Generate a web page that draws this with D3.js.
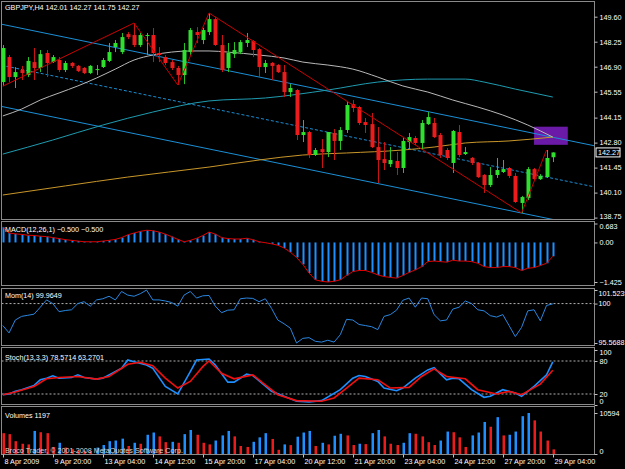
<!DOCTYPE html>
<html>
<head>
<meta charset="utf-8">
<script src="https://cdnjs.cloudflare.com/ajax/libs/d3/7.8.5/d3.min.js"></script>
<style>
  body { margin: 0; background: #000; }
  svg { display: block; }
  text { font-family: "Liberation Sans", Arial, sans-serif; font-size: 7.2px; fill: #fff; }
</style>
</head>
<body>
<svg width="625" height="469"></svg>
<script>
// GBPJPY H4, 8 Apr 12:00 .. 29 Apr 04:00 (89 bars)
var open = [146.07,147.42,146.34,146.72,146.45,147.15,146.83,147.64,147.15,147.26,
  146.72,147.10,146.94,146.83,146.56,146.72,146.88,147.21,147.96,147.69,
  148.66,148.61,148.07,148.56,148.61,147.64,147.42,147.15,146.83,146.45,
  147.69,148.77,148.34,148.77,149.47,148.07,146.83,147.58,147.69,148.18,
  148.29,147.85,146.88,147.10,146.99,146.61,145.53,145.64,143.21,143.37,
  142.13,142.45,142.29,143.32,142.89,143.48,144.88,144.72,143.91,143.80,
  142.56,141.91,141.64,141.81,141.43,142.83,143.05,142.78,143.80,143.86,
  143.21,142.40,141.70,143.37,142.18,141.97,141.70,141.05,140.51,141.05,
  141.21,141.43,141.00,139.54,139.81,141.37,140.83,140.94,142.01];
var high = [148.07,147.53,146.88,146.94,147.42,147.91,147.80,147.80,147.53,147.42,
  147.21,147.15,146.99,146.88,146.99,146.99,147.37,148.18,148.34,148.72,
  148.77,149.26,148.72,148.72,148.99,147.96,147.53,147.26,146.94,148.18,
  148.99,149.04,148.99,149.80,149.58,148.61,148.18,148.23,148.34,148.72,
  148.34,147.91,147.26,147.15,147.04,146.99,145.96,145.69,144.02,143.43,
  142.51,142.99,143.37,143.53,143.64,144.99,145.10,144.78,144.13,144.40,
  143.64,142.83,142.56,142.29,143.05,143.32,143.16,144.02,144.45,144.13,
  143.32,142.51,143.48,143.75,142.56,142.02,141.75,141.10,141.48,141.97,
  141.86,141.48,141.16,139.92,141.48,141.43,141.10,142.40,142.27];
var low = [145.85,146.07,145.75,146.18,146.34,146.18,146.61,146.34,147.10,146.61,
  146.61,146.83,146.61,146.50,146.50,146.45,146.83,147.15,147.69,147.58,
  148.39,147.96,147.96,147.53,147.15,147.15,146.99,146.72,145.91,145.96,
  147.53,148.18,148.12,148.61,148.02,146.61,146.61,147.37,147.58,147.96,
  147.42,146.34,146.56,146.18,146.56,145.26,145.26,142.94,142.83,141.97,
  142.08,141.43,142.02,141.86,142.40,143.32,144.45,143.75,143.32,142.51,
  140.62,141.32,141.48,141.05,141.16,142.40,142.67,142.40,143.75,143.05,
  141.97,141.86,141.16,142.02,142.13,141.59,140.89,140.08,140.40,140.89,
  141.16,140.89,139.54,139.00,139.70,140.78,140.78,140.89,141.75];
var close = [147.91,146.34,146.61,146.56,147.21,146.83,147.58,147.10,147.42,146.72,
  147.10,146.94,146.67,146.56,146.94,146.77,147.26,147.69,148.18,148.50,
  148.50,148.07,148.61,148.61,147.64,147.53,147.10,146.83,146.45,147.80,
  148.88,148.61,148.88,149.47,148.07,146.72,147.64,147.80,148.23,148.34,
  147.80,146.88,147.10,146.94,146.61,145.53,145.75,143.21,143.37,142.13,
  142.40,142.29,143.37,142.89,143.48,144.83,144.67,143.86,143.75,142.56,
  141.86,141.70,141.86,141.43,142.89,143.10,142.78,143.86,144.18,143.10,
  142.13,141.97,143.43,142.13,142.29,141.70,140.94,140.51,141.05,141.32,
  141.37,141.00,139.59,139.86,141.37,140.83,141.00,141.97,142.27];

// moving averages: [bar, price]
var maSlow = [[0,139.97],[10,140.46],[20,140.94],[33,141.48],[41,141.86],[48,142.13],
  [55,142.24],[64,142.40],[69,142.56],[74,142.78],[81,142.89],[88,143.10]];
var maMid = [[0,142.18],[8,142.94],[16,143.75],[24,144.45],[33,145.05],[42,145.21],
  [52,145.64],[60,146.07],[68,146.23],[74,146.23],[77,146.07],[82,145.69],[88,145.26]];
var maFast = [[0,144.24],[3,144.61],[6,145.10],[9,145.48],[12,145.86],[15,146.29],
  [18,146.77],[21,147.26],[24,147.53],[27,147.69],[30,147.75],[33,147.75],[36,147.69],
  [41,147.53],[45,147.37],[48,147.15],[52,146.99],[56,146.77],[60,146.34],[64,145.86],
  [68,145.53],[72,145.10],[76,144.72],[80,144.29],[84,143.75],[88,143.10]];

// zigzag turning points: [bar, "h"|"l"]
var zigzag = [[0,"l"],[21,"h"],[28,"l"],[33,"h"],[83,"l"],[87,"h"]];

// regression channel: middle line from bar 0 to bar 88, half width in yen
var channelBars = [0, 88];
var channelMid = [146.96, 140.87];
var channelHalf = 2.22;

// rectangle object
var boxBars = [85, 90.4];
var boxPrices = [143.66, 142.68];

var macd = [0.55,0.34,0.31,0.29,0.26,0.25,0.225,0.21,0.175,0.14,
  0.10,0.075,0.05,0.025,0.025,0.025,0.05,0.075,0.11,0.175,
  0.275,0.34,0.40,0.44,0.425,0.375,0.30,0.21,0.11,0.025,
  0.075,0.15,0.25,0.375,0.30,0.175,0.14,0.125,0.125,0.15,
  0.10,0.025,-0.01,-0.05,-0.10,-0.20,-0.35,-0.54,-0.79,-1.10,
  -1.345,-1.40,-1.425,-1.40,-1.345,-1.19,-1.05,-1.01,-1.01,-1.08,
  -1.17,-1.23,-1.26,-1.285,-1.19,-1.08,-0.99,-0.87,-0.69,-0.67,
  -0.69,-0.71,-0.64,-0.67,-0.67,-0.69,-0.75,-0.87,-0.905,-0.905,
  -0.87,-0.87,-0.905,-1.01,-0.93,-0.905,-0.83,-0.75,-0.50];

var mom = [97.53,96.70,98.15,98.56,98.68,98.81,99.59,100.41,100.00,99.09,
  99.22,99.30,100.00,100.21,99.71,100.41,100.54,100.82,100.41,101.36,
  100.95,100.82,101.11,101.52,100.41,100.41,100.29,100.12,99.71,100.95,
  101.36,100.62,100.87,100.91,99.71,98.97,99.26,99.30,100.54,100.62,
  100.58,100.21,100.54,99.46,98.15,97.73,97.24,95.57,96.09,96.17,
  95.76,95.67,95.88,95.67,96.50,98.23,98.15,97.65,97.53,97.40,
  97.07,98.56,98.76,99.26,100.37,100.62,99.59,100.62,100.54,98.76,
  98.06,98.15,99.38,99.59,100.29,100.00,99.30,99.18,98.64,98.48,
  98.76,97.53,96.29,97.32,99.18,99.30,98.06,99.79,99.9649];

// stochastic main and signal: [bar, value]
var stochMain = [[0,18.8],[1,20],[2,24.8],[3,27.8],[5,35.6],[6,45.8],[7,48.8],[8,53],[9,48.8],
  [11,50],[12,54.8],[13,50],[15,47],[16,48.8],[17,54.8],[19,66.8],[20,81.8],[21,78.8],
  [23,72.8],[24,66.8],[26,33.8],[28,20],[30,60.8],[31,81.8],[33,83.6],[34,72.8],[36,41.6],
  [37,41.6],[39,56],[40,53.6],[43,24.8],[45,15.8],[47,6.8],[49,5.6],[51,8],[54,27.8],
  [56,48.8],[57,53.6],[58,51.8],[60,42.8],[61,30.8],[63,26],[64,30.8],[66,48.8],[68,63.8],
  [69,68],[71,45.8],[72,48.8],[73,47.6],[75,27.8],[77,14],[78,15.8],[80,27.8],[82,21.8],
  [83,15.8],[85,33.8],[87,55],[88,78.5714]];
var stochSignal = [[0,18.8],[2,23.6],[5,33.8],[7,47.6],[9,50],[12,51.8],[15,47],[17,51.8],
  [20,74],[22,77.6],[24,71.6],[26,48.8],[28,30.8],[30,42.8],[32,69.8],[33,80],[35,57.8],
  [37,47.6],[40,54.8],[42,36.8],[44,18.8],[47,8],[51,6.8],[53,12.8],[55,30.8],[57,48.8],
  [60,45.8],[62,30.8],[65,32],[67,51.8],[69,65.6],[71,51.8],[74,47.6],[76,27.8],[79,20],
  [81,24.8],[83,18.8],[86,38],[88,63.2701]];

var volume = [5380,5130,3310,2650,2480,5960,5630,5380,1820,2900,
  1660,1240,990,830,700,1660,2320,3310,3480,3970,
  2070,2900,2650,4970,5550,4550,3060,3150,2900,5130,
  6210,4970,2900,2480,3480,4800,5960,4550,2070,1820,
  3150,4300,5380,3890,1080,2480,2300,4470,5550,5960,
  2070,2900,2480,4720,5220,4800,2320,2650,2560,5380,
  6210,4550,2650,2320,2900,5380,5220,4550,3060,2320,
  3480,5800,5630,4300,1820,4800,5550,8280,7040,9520,
  4800,4970,5800,9770,10594,8690,5800,3480,1197];

var priceTicks = [149.60,148.25,146.90,145.55,144.15,142.80,141.45,140.10,138.75];
var macdTicks = [0.683, 0, -1.425];
var momTicks = [101.5239, 100, 95.5688];
var stochTicks = [100, 80, 20, 0];
var volTicks = [10594, 0];
var timeBars = [0,8,16,24,32,40,48,56,64,72,80,88];
var timeLabels = ["8 Apr 2009","9 Apr 20:00","13 Apr 04:00","14 Apr 12:00","15 Apr 20:00",
  "17 Apr 04:00","20 Apr 12:00","21 Apr 20:00","23 Apr 04:00","24 Apr 12:00",
  "27 Apr 20:00","29 Apr 04:00"];

var svg = d3.select("svg"),
    width = +svg.attr("width"),
    height = +svg.attr("height");

var left = 1.5, right = 594.5;
var panes = {
  main:  [1.5, 219.5],
  macd:  [221.5, 285.5],
  mom:   [288.5, 345.5],
  stoch: [347.5, 404.5],
  vol:   [406.5, 454.5]
};

var x = d3.scaleLinear().domain([0, 88]).range([2.8, 552.8]);
function bx(i) { return Math.round(x(i)) + 0.5; }

var yP = d3.scaleLinear().domain([138.75, 149.60]).range([217.6, 16.7]);
var yM = d3.scaleLinear().domain([-1.425, 0.683]).range([282, 223.5]);
var yMo = d3.scaleLinear().domain([95.5688, 101.5239]).range([343, 290]);
var yS = d3.scaleLinear().domain([0, 100]).range([405, 350]);
var yV = d3.scaleLinear().domain([0, 10594]).range([454, 413]);

var green = "#2fe02f", red = "#ec1c1c", blue = "#1e8fff";

svg.append("rect").attr("width", width).attr("height", height).attr("fill", "#000");

// clip path per pane
var defs = svg.append("defs");
Object.keys(panes).forEach(function(k) {
  defs.append("clipPath").attr("id", "clip-" + k)
    .append("rect").attr("x", left).attr("y", panes[k][0])
    .attr("width", right - left).attr("height", panes[k][1] - panes[k][0]);
});
function pane(k) { return svg.append("g").attr("clip-path", "url(#clip-" + k + ")"); }

// ---- main pane ----
var main = pane("main");

main.append("rect")
  .attr("x", x(boxBars[0])).attr("width", x(boxBars[1]) - x(boxBars[0]))
  .attr("y", yP(boxPrices[0])).attr("height", yP(boxPrices[1]) - yP(boxPrices[0]))
  .attr("fill", "#6a1aa6");

// regression channel (ray to the right)
var slope = (channelMid[1] - channelMid[0]) / (channelBars[1] - channelBars[0]);
function chan(off, dash) {
  var b0 = -1, b1 = 100;
  main.append("line")
    .attr("x1", x(b0)).attr("y1", yP(channelMid[0] + slope * (b0 - channelBars[0]) + off))
    .attr("x2", x(b1)).attr("y2", yP(channelMid[0] + slope * (b1 - channelBars[0]) + off))
    .attr("stroke", "#1b8fd6").attr("stroke-width", 1)
    .attr("stroke-dasharray", dash ? "3,2" : null);
}
chan(channelHalf, false);
chan(0, true);
chan(-channelHalf, false);

var maLine = d3.line().x(function(d) { return x(d[0]); }).y(function(d) { return yP(d[1]); })
  .curve(d3.curveMonotoneX);
main.append("path").attr("d", maLine(maSlow)).attr("fill", "none").attr("stroke", "#c8962a").attr("stroke-width", 1);
main.append("path").attr("d", maLine(maMid)).attr("fill", "none").attr("stroke", "#1f9bb0").attr("stroke-width", 1);
main.append("path").attr("d", maLine(maFast)).attr("fill", "none").attr("stroke", "#b8b8b8").attr("stroke-width", 1);

// candles
var bars = d3.range(close.length);
var candle = main.append("g").selectAll("g").data(bars).enter().append("g");
candle.append("line")
  .attr("x1", bx).attr("x2", bx)
  .attr("y1", function(i) { return yP(high[i]); })
  .attr("y2", function(i) { return yP(low[i]); })
  .attr("stroke", function(i) { return close[i] >= open[i] ? "#26c226" : "#c81414"; });
candle.append("rect")
  .attr("x", function(i) { return bx(i) - 2; })
  .attr("width", 4)
  .attr("y", function(i) { return yP(Math.max(open[i], close[i])); })
  .attr("height", function(i) { return Math.max(1, Math.abs(yP(open[i]) - yP(close[i]))); })
  .attr("fill", function(i) { return close[i] >= open[i] ? green : red; });

// zigzag
main.append("path")
  .attr("d", d3.line()
    .x(function(d) { return x(d[0]); })
    .y(function(d) { return yP(d[1] == "h" ? high[d[0]] : low[d[0]]); })(zigzag))
  .attr("fill", "none").attr("stroke", "#c80000").attr("stroke-width", 1);

var last = close.length - 1;
svg.append("text").attr("x", 5).attr("y", 10)
  .text("GBPJPY,H4  " + [open[last], high[last], low[last], close[last]].map(d3.format(".2f")).join(" "));

// ---- MACD ----
var gM = pane("macd");
gM.selectAll("rect").data(bars).enter().append("rect")
  .attr("x", function(i) { return bx(i) - 1; })
  .attr("width", 2)
  .attr("y", function(i) { return Math.min(yM(0), yM(macd[i])); })
  .attr("height", function(i) { return Math.abs(yM(macd[i]) - yM(0)); })
  .attr("fill", blue);
gM.append("path")
  .attr("d", d3.line().x(function(d, i) { return x(i); }).y(function(d) { return yM(d); })(macd))
  .attr("fill", "none").attr("stroke", "#e00000").attr("stroke-width", 1);
svg.append("text").attr("x", 5).attr("y", 232)
  .text("MACD(12,26,1) " + d3.format(".3f")(macd[last]) + " " + d3.format(".3f")(macd[last]));

// ---- Momentum ----
var gMo = pane("mom");
gMo.append("line").attr("x1", left).attr("x2", right).attr("y1", yMo(100)).attr("y2", yMo(100))
  .attr("stroke", "#b0b0b0").attr("stroke-dasharray", "2,2");
gMo.append("path")
  .attr("d", d3.line().x(function(d, i) { return x(i); }).y(function(d) { return yMo(d); })(mom))
  .attr("fill", "none").attr("stroke", "#2a86e0").attr("stroke-width", 1);
svg.append("text").attr("x", 5).attr("y", 297.5).text("Mom(14) " + d3.format(".4f")(mom[last]));

// ---- Stochastic ----
var gS = pane("stoch");
[80, 20].forEach(function(l) {
  gS.append("line").attr("x1", left).attr("x2", right).attr("y1", yS(l)).attr("y2", yS(l))
    .attr("stroke", "#b0b0b0").attr("stroke-dasharray", "2,2");
});
var sLine = d3.line().x(function(d) { return x(d[0]); }).y(function(d) { return yS(d[1]); });
gS.append("path").attr("d", sLine(stochMain)).attr("fill", "none").attr("stroke", blue).attr("stroke-width", 1.6);
gS.append("path").attr("d", sLine(stochSignal)).attr("fill", "none").attr("stroke", "#f01010").attr("stroke-width", 1.6);
svg.append("text").attr("x", 5).attr("y", 359.5)
  .text("Stoch(13,3,3) " + d3.format(".4f")(stochMain[stochMain.length - 1][1]) + " " +
        d3.format(".4f")(stochSignal[stochSignal.length - 1][1]));

// ---- Volumes ----
var gV = pane("vol");
gV.selectAll("rect").data(bars).enter().append("rect")
  .attr("x", function(i) { return bx(i) - 1; })
  .attr("width", 2.5)
  .attr("y", function(i) { return yV(volume[i]); })
  .attr("height", function(i) { return yV(0) - yV(volume[i]); })
  .attr("fill", function(i) { return i > 0 && volume[i] > volume[i - 1] ? blue : red; });
svg.append("text").attr("x", 5).attr("y", 418).text("Volumes " + volume[last]);
svg.append("text").attr("x", 5).attr("y", 452.5).style("fill", "#d8d8d8")
  .text("Broco Trader, \u00a9 2001-2008 MetaQuotes Software Corp.");

// ---- frames ----
Object.keys(panes).forEach(function(k) {
  svg.append("rect").attr("x", left).attr("y", panes[k][0])
    .attr("width", right - left).attr("height", panes[k][1] - panes[k][0])
    .attr("fill", "none").attr("stroke", "#8a8a8a").attr("stroke-width", 1);
});

// ---- right axes ----
function rightAxis(scale, ticks, fmt, k) {
  var g = svg.append("g").attr("transform", "translate(" + right + ",0)")
    .call(d3.axisRight(scale).tickValues(ticks).tickFormat(fmt).tickSize(3).tickPadding(2));
  g.select(".domain").remove();
  g.selectAll("line").attr("stroke", "#c0c0c0");
  g.selectAll("text").attr("fill", null).style("font-size", "7.2px")
    .attr("y", function(d) {
      var y = scale(d);
      var c = Math.max(panes[k][0] + 5, Math.min(panes[k][1] - 3.5, y));
      return c - y;
    });
  return g;
}
rightAxis(yP, priceTicks, d3.format(".2f"), "main");
rightAxis(yM, macdTicks, function(d) { return d === 0 ? "0.00" : d3.format(".3f")(d); }, "macd");
rightAxis(yMo, momTicks, function(d) { return d === 100 ? "100" : d3.format(".4f")(d); }, "mom")
  .selectAll("text").attr("x", 4);
rightAxis(yS, stochTicks, function(d) { return d; }, "stoch");
rightAxis(yV, volTicks, function(d) { return d; }, "vol");

// current price marker
var cp = svg.append("g").attr("transform", "translate(" + right + "," + yP(close[last]) + ")");
cp.append("rect").attr("x", 1.5).attr("y", -4.5).attr("width", 24).attr("height", 9)
  .attr("fill", "#000").attr("stroke", "#fff");
cp.append("text").attr("x", 3.5).attr("y", 2.6).text(d3.format(".2f")(close[last]));

// ---- time axis ----
var tx = svg.append("g").attr("transform", "translate(0," + panes.vol[1] + ")")
  .call(d3.axisBottom(x).tickValues(timeBars)
    .tickFormat(function(d, i) { return timeLabels[i]; }).tickSize(3).tickPadding(1));
tx.select(".domain").remove();
tx.selectAll(".tick").attr("transform", function(d) { return "translate(" + bx(d) + ",0)"; });
tx.selectAll("line").attr("stroke", "#c0c0c0");
tx.selectAll("text").attr("fill", null).attr("text-anchor", "start").attr("x", 1).style("font-size", "7.2px");
</script>
</body>
</html>
